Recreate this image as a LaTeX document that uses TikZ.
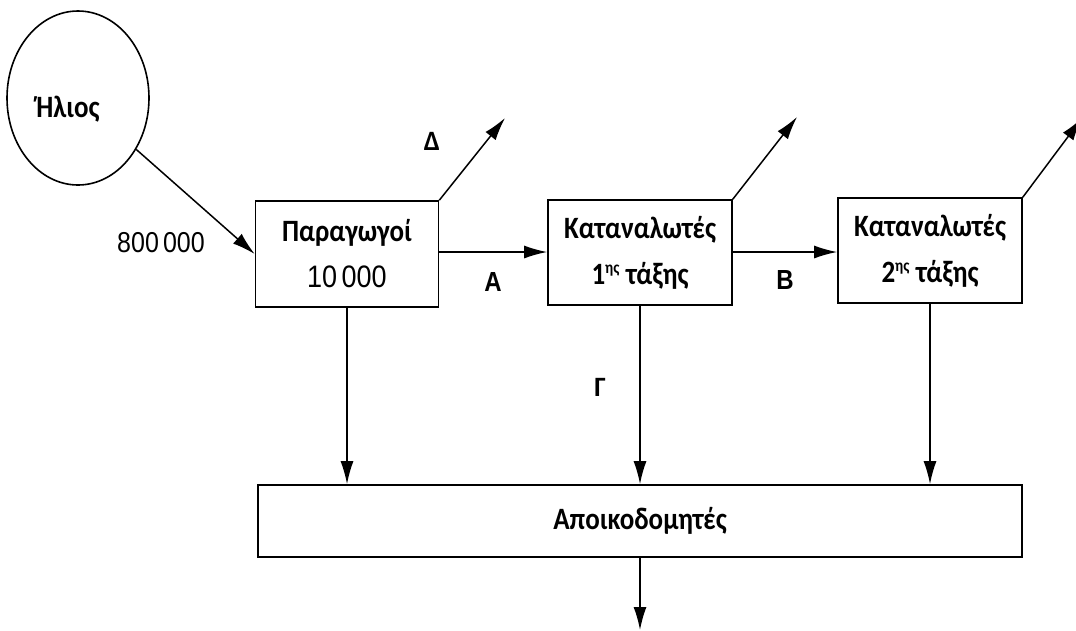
\documentclass[tikz,border=0pt]{standalone}
\usepackage{fontspec}
\usepackage{graphicx}
\setmainfont{Carlito}
\newfontfamily\arialf{Liberation Sans}
\newcommand{\vst}[1]{\scalebox{1}[1.15]{#1}}
\usetikzlibrary{arrows.meta,shapes.geometric}
\begin{document}
\begin{tikzpicture}[x=1pt,y=-1pt,
  box/.style={draw,line width=1.6pt,rectangle,inner sep=0pt,align=center,
    font=\fontsize{27}{46}\selectfont\bfseries},
  arr/.style={line width=1.5pt,-{Latex[length=23pt,width=13pt]}},
  lab/.style={font=\fontsize{28}{30}\selectfont\bfseries},
  labl/.style={font=\arialf\fontsize{24}{28}\selectfont\bfseries},
  num/.style={font=\arialf\fontsize{25}{28}\selectfont}]
\clip (0,0) rectangle (1076,630);
\fill[white] (0,0) rectangle (1076,630);

\node[draw,ellipse,line width=1.6pt,minimum width=142pt,minimum height=174pt,inner sep=0pt] (S) at (78,98) {};
\node[font=\fontsize{27}{30}\selectfont\bfseries] (St) at (68,109) {\vst{Ήλιος}};

\node[box,minimum width=183pt,minimum height=106pt] (P) at (347,254)
  {\vst{Παραγωγοί}\\\vst{\arialf\mdseries 10\,000}};
\node[box,minimum width=184pt,minimum height=105pt] (K1) at (640,252.5)
  {\vst{Καταναλωτές}\\\vst{1\textsuperscript{\fontsize{15}{15}\selectfont ης} τάξης}};
\node[box,minimum width=184pt,minimum height=105pt] (K2) at (930,250.5)
  {\vst{Καταναλωτές}\\\vst{2\textsuperscript{\fontsize{15}{15}\selectfont ης} τάξης}};
\node[box,minimum width=764pt,minimum height=72pt] (D) at (640,521)
  {\vst{Αποικοδομητές}};

\node[num] (n800) at (161,243) {\vst{800\,000}};
\node[labl] (lA) at (493,282) {\vst{Α}};
\node[labl] (lB) at (785,280) {\vst{Β}};
\node[lab] (lG) at (600,387) {Γ};
\node[lab] (lD) at (432,141) {Δ};

\coordinate (d1) at (505,118);
\coordinate (d2) at (797,117);
\coordinate (d3) at (1082,118);
\coordinate (out) at (640,630);

\draw[arr] (S) -- (P.west);
\draw[arr] (P.north east) -- (d1);
\draw[arr] (K1.north east) -- (d2);
\draw[arr] (K2.north east) -- (d3);
\draw[arr] (P.east |- 0,252) -- (K1.west |- 0,252);
\draw[arr] (K1.east |- 0,252) -- (K2.west |- 0,252);
\draw[arr] (P.south) -- (P.south |- D.north);
\draw[arr] (K1.south) -- (K1.south |- D.north);
\draw[arr] (K2.south) -- (K2.south |- D.north);
\draw[arr] (D.south) -- (out);
\end{tikzpicture}
\end{document}
